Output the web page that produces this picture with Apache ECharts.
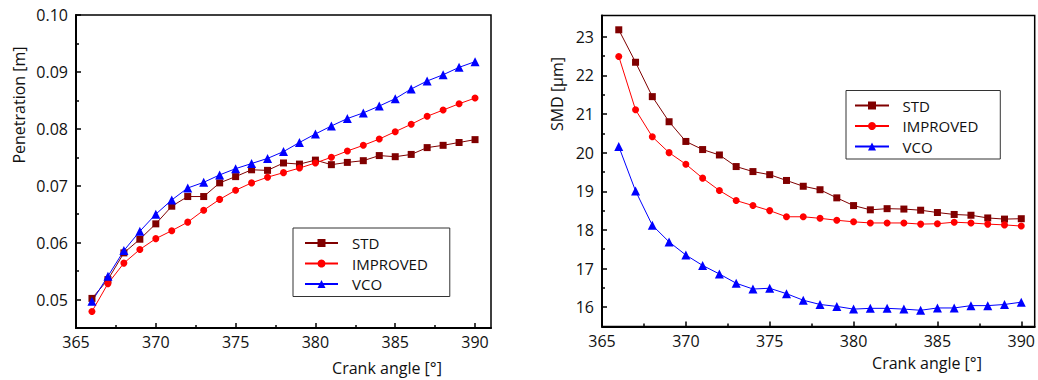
<!DOCTYPE html>
<html>
<head>
<meta charset="utf-8">
<script src="https://cdn.jsdelivr.net/npm/echarts@6/dist/echarts.min.js"></script>
<style>
html,body{margin:0;padding:0;background:#fff;}
#c{width:1038px;height:380px;}
</style>
</head>
<body>
<div id="c"></div>
<script>
// Crank angle [°]
const angles = [366,367,368,369,370,371,372,373,374,375,376,377,378,379,380,381,382,383,384,385,386,387,388,389,390];

// Penetration [m]
const penSTD = [0.0502,0.0535,0.0582,0.0606,0.0633,0.0664,0.0681,0.0681,0.0705,0.0716,0.0728,0.0727,0.0740,0.0738,0.0745,0.0737,0.0741,0.0744,0.0753,0.0751,0.0755,0.0767,0.0771,0.0776,0.0781];
const penIMP = [0.0479,0.0528,0.0564,0.0588,0.0607,0.0621,0.0636,0.0657,0.0676,0.0692,0.0705,0.0715,0.0723,0.0731,0.0740,0.0750,0.0761,0.0771,0.0782,0.0795,0.0808,0.0822,0.0833,0.0844,0.0854];
const penVCO = [0.0497,0.0541,0.0586,0.0620,0.0650,0.0675,0.0696,0.0706,0.0719,0.0730,0.0739,0.0748,0.0760,0.0776,0.0791,0.0805,0.0818,0.0828,0.0840,0.0853,0.0870,0.0884,0.0895,0.0908,0.0918];

// SMD [µm]
const smdSTD = [23.18,22.34,21.45,20.80,20.29,20.08,19.94,19.64,19.51,19.43,19.28,19.13,19.04,18.83,18.63,18.52,18.55,18.54,18.51,18.45,18.40,18.38,18.31,18.28,18.29];
const smdIMP = [22.49,21.11,20.41,20.00,19.70,19.34,19.02,18.76,18.63,18.50,18.34,18.34,18.30,18.25,18.21,18.18,18.18,18.18,18.15,18.16,18.20,18.18,18.15,18.13,18.10];
const smdVCO = [20.16,19.01,18.12,17.69,17.35,17.08,16.86,16.62,16.47,16.49,16.35,16.18,16.07,16.02,15.95,15.97,15.97,15.95,15.92,15.98,15.98,16.04,16.04,16.07,16.13];

// Tick labels
const xTicks = [365,370,375,380,385,390];
const xMinor = [367.5,372.5,377.5,382.5,387.5];
const penTicks = [0.05,0.06,0.07,0.08,0.09,0.10];
const penMinor = [0.055,0.065,0.075,0.085,0.095];
const smdTicks = [16,17,18,19,20,21,22,23];
const smdMinor = [16.5,17.5,18.5,19.5,20.5,21.5,22.5];

const seriesNames = ['STD','IMPROVED','VCO'];
const FONT = '"Open Sans", "Noto Sans", sans-serif';
const TXT = '#111';

const pair = (ys) => angles.map((a, i) => [a, ys[i]]);

const chart = echarts.init(document.getElementById('c'), null, {renderer: 'svg'});

function mainX(grid, min, max) {
  return {
    type: 'value', gridIndex: grid, min: min, max: max,
    axisLine: {show: true, onZero: false, lineStyle: {color: '#000', width: 2}},
    axisTick: {show: true, inside: true, length: 5, customValues: xTicks, lineStyle: {color: '#000', width: 1.5}},
    axisLabel: {customValues: xTicks, color: TXT, fontSize: 16, fontFamily: FONT, margin: 6},
    splitLine: {show: false}
  };
}
function minorX(grid, min, max) {
  return {
    type: 'value', gridIndex: grid, min: min, max: max, position: 'bottom',
    axisLine: {show: false},
    axisTick: {show: true, inside: true, length: 3, customValues: xMinor, lineStyle: {color: '#000', width: 1.5}},
    axisLabel: {show: false},
    splitLine: {show: false}
  };
}
function mainY(grid, min, max, ticks, fmt) {
  return {
    type: 'value', gridIndex: grid, min: min, max: max,
    axisLine: {show: true, onZero: false, lineStyle: {color: '#000', width: 2}},
    axisTick: {show: true, inside: true, length: 5, customValues: ticks, lineStyle: {color: '#000', width: 1.5}},
    axisLabel: {customValues: ticks, color: TXT, fontSize: 16, fontFamily: FONT, margin: 8, formatter: fmt},
    splitLine: {show: false}
  };
}
function minorY(grid, min, max, ticks) {
  return {
    type: 'value', gridIndex: grid, min: min, max: max, position: 'left',
    axisLine: {show: false},
    axisTick: {show: true, inside: true, length: 3, customValues: ticks, lineStyle: {color: '#000', width: 1.5}},
    axisLabel: {show: false},
    splitLine: {show: false}
  };
}

const styles = {
  STD: {color: '#800000', symbol: 'rect', size: 7},
  IMPROVED: {color: '#ff0000', symbol: 'circle', size: 7},
  VCO: {color: '#0000ff', symbol: 'triangle', size: 9}
};
function mkSeries(name, data, xi, yi) {
  const s = styles[name];
  return {
    name: name, type: 'line', xAxisIndex: xi, yAxisIndex: yi, data: pair(data),
    symbol: s.symbol, symbolSize: s.size, showSymbol: true,
    lineStyle: {color: s.color, width: 1},
    itemStyle: {color: s.color},
    emphasis: {disabled: true},
    animation: false
  };
}

function mkLegend(left, top, itemWidth, textPad, padding) {
  return {
    orient: 'vertical', left: left, top: top,
    data: seriesNames,
    itemWidth: itemWidth, itemHeight: 10, itemGap: 5.5,
    padding: padding,
    borderColor: '#333', borderWidth: 1, backgroundColor: '#fff',
    textStyle: {color: TXT, fontSize: 15, fontFamily: FONT, lineHeight: 15, padding: [0,0,0,textPad]},
    selectedMode: false
  };
}

const option = {
  animation: false,
  backgroundColor: '#fff',
  grid: [
    {left: 76, top: 15, width: 415, height: 313, show: true, borderColor: '#000', borderWidth: 1.5, containLabel: false},
    {left: 602, top: 15.5, width: 434, height: 311, show: true, borderColor: '#000', borderWidth: 1.5, containLabel: false}
  ],
  xAxis: [mainX(0, 365, 391), minorX(0, 365, 391), mainX(1, 365, 390.8), minorX(1, 365, 390.8)],
  yAxis: [
    mainY(0, 0.045, 0.10, penTicks, v => v.toFixed(2)),
    minorY(0, 0.045, 0.10, penMinor),
    mainY(1, 15.5, 23.55, smdTicks, v => String(Math.round(v))),
    minorY(1, 15.5, 23.55, smdMinor)
  ],
  legend: [
    mkLegend(293, 228, 33, 9, [7.5, 22, 5, 11]),
    mkLegend(846, 90.5, 34, 8.5, [7.5, 22, 5, 8])
  ],
  series: [
    mkSeries('STD', penSTD, 0, 0),
    mkSeries('IMPROVED', penIMP, 0, 0),
    mkSeries('VCO', penVCO, 0, 0),
    mkSeries('STD', smdSTD, 2, 2),
    mkSeries('IMPROVED', smdIMP, 2, 2),
    mkSeries('VCO', smdVCO, 2, 2)
  ],
  graphic: [
    {type: 'text', x: 19, y: 105, rotation: Math.PI / 2, style: {text: 'Penetration [m]', fill: TXT, font: '16px ' + FONT, align: 'center', verticalAlign: 'middle'}},
    {type: 'text', x: 387, y: 368, style: {text: 'Crank angle [°]', fill: TXT, font: '16px ' + FONT, align: 'center', verticalAlign: 'middle'}},
    {type: 'text', x: 557, y: 94, rotation: Math.PI / 2, style: {text: 'SMD [µm]', fill: TXT, font: '16px ' + FONT, align: 'center', verticalAlign: 'middle'}},
    {type: 'text', x: 927, y: 363, style: {text: 'Crank angle [°]', fill: TXT, font: '16px ' + FONT, align: 'center', verticalAlign: 'middle'}}
  ]
};
chart.setOption(option);
</script>
</body>
</html>
